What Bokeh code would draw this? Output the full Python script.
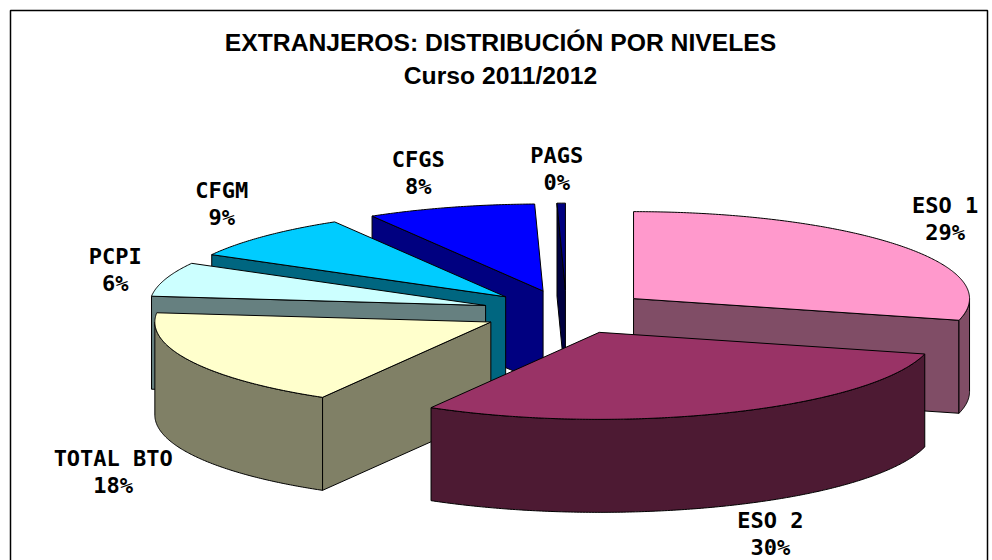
import numpy as np
from bokeh.embed import file_html
from bokeh.models import ColumnDataSource
from bokeh.plotting import figure
from bokeh.resources import INLINE
from bokeh.core.properties import value

# --- chart data -------------------------------------------------------------
categories = ["ESO 1", "ESO 2", "TOTAL BTO", "PCPI", "CFGM", "CFGS", "PAGS"]
shares = [29.0, 29.35, 18.35, 6.35, 8.45, 8.1, 0.4]
share_labels = ["29%", "30%", "18%", "6%", "9%", "8%", "0%"]
top_colors = ["#FF99CC", "#993366", "#FFFFCC", "#CCFFFF", "#00CCFF", "#0000FF", "#000080"]
side_colors = ["#804D66", "#4D1A33", "#808066", "#668080", "#006680", "#000080", "#000040"]
title_lines = ["EXTRANJEROS: DISTRIBUCIÓN POR NIVELES", "Curso 2011/2012"]

# --- projection of the exploded 3-D pie (page pixels) --------------------------
CX, CY, RX, RY, DEPTH, EXPLODE = 566.0, 311.6, 336.0, 87.0, 93.0, 0.2525
LABEL_OFFSET = [(46, -26), (41, 121), (-78, 111), (-50, -9), (-43, -32), (-32, -34), (-4.5, -34)]
PAINT_ORDER = [6, 5, 4, 3, 0, 2, 1]

edges = np.concatenate([[0.0], np.cumsum(shares)]) / sum(shares) * 360.0


def rim(ax, ay, a0, a1):
    t = np.radians(np.linspace(a0, a1, max(3, int(abs(a1 - a0) * 2))))
    return ax + RX * np.sin(t), ay - RY * np.cos(t)


xs, ys, fills = [], [], []
def add(x, y, c):
    xs.append(list(map(float, x))); ys.append(list(map(float, y))); fills.append(c)


for i in PAINT_ORDER:
    a0, a1 = edges[i], edges[i + 1]
    mid = np.radians((a0 + a1) / 2)
    ax = CX + EXPLODE * RX * np.sin(mid)
    ay = CY - EXPLODE * RY * np.cos(mid)
    # cut faces that look toward the viewer
    for ang, visible in ((a0, np.sin(np.radians(a0)) < 0), (a1, np.sin(np.radians(a1)) > 0)):
        if visible:
            ex, ey = rim(ax, ay, ang, ang)
            add([ax, ex[0], ex[0], ax], [ay, ey[0], ey[0] + DEPTH, ay + DEPTH], side_colors[i])
    # outer wall (front half of the ellipse only)
    r0, r1 = max(a0, 90.0), min(a1, 270.0)
    if r1 > r0:
        ex, ey = rim(ax, ay, r0, r1)
        add(np.r_[ex, ex[::-1]], np.r_[ey, ey[::-1] + DEPTH], side_colors[i])
    # top face
    ex, ey = rim(ax, ay, a0, a1)
    add(np.r_[ax, ex], np.r_[ay, ey], top_colors[i])

p = figure(width=992, height=560, x_range=(0, 992), y_range=(560, 0),
           output_backend="svg", toolbar_location=None, min_border=0)
p.axis.visible = False
p.grid.visible = False
p.outline_line_color = None
p.background_fill_color = "white"

# chart frame
p.quad(left=[10], right=[987], top=[10], bottom=[600], fill_color=None,
       line_color="#000000", line_width=1.5)

p.patches(xs="xs", ys="ys", fill_color="c", line_color="black", line_width=1,
          source=ColumnDataSource(dict(xs=xs, ys=ys, c=fills)))

# slice labels
lx, ly = [], []
for i, (dx, dy) in enumerate(LABEL_OFFSET):
    m = np.radians((edges[i] + edges[i + 1]) / 2)
    lx.append(CX + (1 + EXPLODE) * RX * np.sin(m) + dx)
    ly.append(CY - (1 + EXPLODE) * RY * np.cos(m) + dy)
for off, txt in ((-13.5, categories), (13.5, share_labels)):
    src = ColumnDataSource(dict(x=lx, y=[v + off for v in ly], t=txt))
    p.text(x="x", y="y", text="t", source=src, text_align="center", text_baseline="middle",
           text_font=value("DejaVu Sans Mono"), text_font_style="bold", text_font_size="22px",
           text_color="black")

# title
for y, t, in zip((42, 75), title_lines):
    p.text(x=[500], y=[y], text=[t], text_align="center", text_baseline="middle",
           text_font=value("Liberation Sans"), text_font_style="bold", text_font_size="24.7px",
           text_color="black")

open("out.html", "w").write(file_html(p, INLINE))
